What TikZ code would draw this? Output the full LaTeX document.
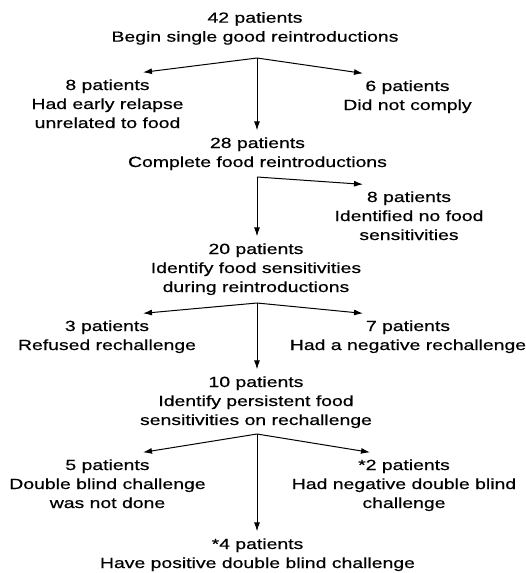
\documentclass[tikz,border=0pt]{standalone}
\usepackage{fontspec}
\setmainfont{Liberation Sans}[FakeStretch=1.32,FakeBold=0.5]
\usetikzlibrary{arrows.meta}

\tikzset{
  box/.style={anchor=base, align=center, inner sep=0pt, outer sep=7pt,
    font=\fontsize{14.7}{19}\selectfont},
  arr/.style={line width=1pt, -{Latex[length=9pt,width=6pt]}}
}

\begin{document}
\begin{tikzpicture}[x=1pt,y=-1pt]
\useasboundingbox (0,0) rectangle (525,573);

%niveau 1
\node [box] (begin) at (255,41.7) {42 patients\\Begin single good reintroductions};
\coordinate (b1) at (257,58);
\node [box] (relapse) at (107.5,128) {8 patients\\Had early relapse\\unrelated to food};
\node [box] (comply) at (407.5,110) {6 patients\\Did not comply};
\node [box] (complete) at (257.5,167) {28 patients\\Complete food reintroductions};
\draw [arr] (b1) -- ([xshift=35.5pt]relapse.north);
\draw [arr] (b1) -- ([xshift=-44.5pt]comply.north);
\draw [arr] (b1) -- (b1 |- complete.north);

%niveau 2
\coordinate (b2) at (257,177);
\node [box] (nofood) at (409,240) {8 patients\\Identified no food\\sensitivities};
\node [box] (identify) at (256,292) {20 patients\\Identify food sensitivities\\during reintroductions};
\draw [arr] (b2) -- ([xshift=-46pt]nofood.north);
\draw [arr] (b2) -- (b2 |- identify.north);

%niveau 3
\coordinate (b3) at (257,303);
\node [box] (refused) at (107,350) {3 patients\\Refused rechallenge};
\node [box] (negative) at (408,350) {7 patients\\Had a negative rechallenge};
\node [box] (persist) at (256,425) {10 patients\\Identify persistent food\\sensitivities on rechallenge};
\draw [arr] (b3) -- ([xshift=36pt]refused.north);
\draw [arr] (b3) -- ([xshift=-45pt]negative.north);
\draw [arr] (b3) -- (b3 |- persist.north);

%niveau 4
\coordinate (b4) at (257,434);
\node [box] (notdone) at (107.5,508) {5 patients\\Double blind challenge\\was not done};
\node [box] (dbneg) at (404,508) {*2 patients\\Had negative double blind\\challenge};
\node [box] (dbpos) at (257.5,568) {*4 patients\\Have positive double blind challenge};
\draw [arr] (b4) -- ([xshift=35.5pt]notdone.north);
\draw [arr] (b4) -- ([xshift=-34pt]dbneg.north);
\draw [arr] (b4) -- (b4 |- dbpos.north);

\end{tikzpicture}
\end{document}
